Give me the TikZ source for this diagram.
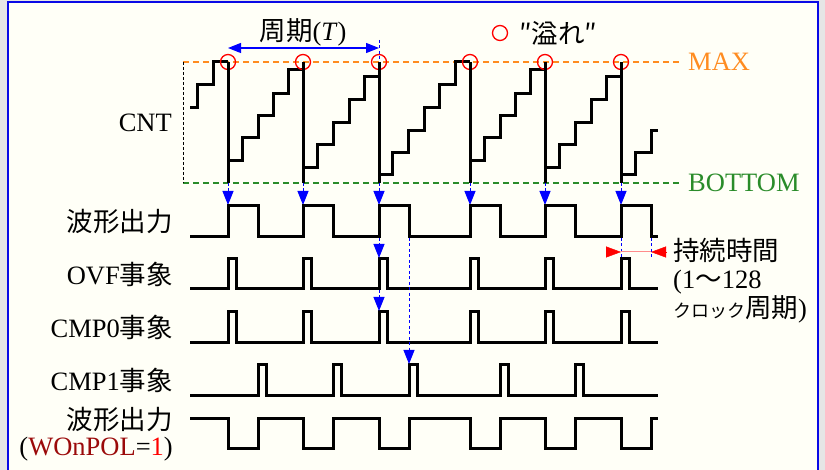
\documentclass[tikz,border=0pt]{standalone}
\usepackage{fontspec}
\setmainfont{Liberation Serif}
\newfontfamily\jpfont{Noto Sans CJK JP}
\usetikzlibrary{arrows.meta, positioning}
\definecolor{outside}{HTML}{E6E6E6}
\definecolor{paper}{HTML}{FFFFF7}
\definecolor{frameblue}{HTML}{0A0AE6}
\definecolor{maxorange}{HTML}{FF8C20}
\definecolor{botgreen}{HTML}{2A8C2A}
\definecolor{wonred}{HTML}{9B0A0A}
\tikzset{
  wave/.style={line width=3pt},
  lvl/.style={dash pattern=on 6pt off 4pt, line width=1.3pt},
  tick/.style={blue, dash pattern=on 3pt off 2.5pt, line width=1pt},
  trig/.style={tick, -{Triangle[length=14pt,width=11pt]}},
  ovfmark/.style={circle, draw=red, line width=1.3pt, minimum size=15pt, inner sep=0pt},
  lbl/.style={anchor=east, inner sep=0pt},
  durtip/.style={red, -{Triangle[length=15pt,width=11pt]}}
}

\begin{document}
\begin{tikzpicture}[x=1pt, y=-1pt, font=\fontsize{26.5}{30}\selectfont]
\useasboundingbox (0,0) rectangle (825,470);
\fill[outside] (0,0) rectangle (825,470);
\fill[paper] (8,2) rectangle (818,472);
\draw[frameblue, line width=2.2pt] (8,472) |- (818,2) -- (818,472);

% counter range
\node[anchor=west, inner sep=2pt, text=maxorange] (maxlbl) at (686,62) {MAX};
\node[anchor=west, inner sep=2pt, text=botgreen] (botlbl) at (686,183) {BOTTOM};
\draw[lvl, maxorange] (183,62) -- ([xshift=-6pt]maxlbl.west);
\draw[lvl, botgreen] (183,183) -- ([xshift=-6pt]botlbl.west);
\draw[densely dashed, line width=0.9pt] (183,62) -- (183,183);
\node[lbl] (cnt) at (172,123) {CNT};

\draw[wave]
  (190,108) -| (197,85) -| (213,62) -- (228,62)
  (228,161) -| (242,138) -| (258,116) -| (273,94) -| (288,70) -- (303,70)
  (303,168) -| (317,145) -| (333,123) -| (349,100) -| (364,77) -- (379,77)
  (379,175) -| (392,153) -| (408,131) -| (424,108) -| (439,85) -| (455,62) -- (470,62)
  (470,161) -| (484,138) -| (500,116) -| (515,94) -| (530,70) -- (545,70)
  (545,168) -| (559,145) -| (575,123) -| (591,100) -| (606,77) -- (621,77)
  (621,175) -| (635,153) -| (651,131) -- (658,131);

\foreach \x [count=\i] in {228,303,379,470,545,621} {
  \node[ovfmark] (ovf\i) at (\x,62) {};
  \coordinate (bot\i) at (\x,183);
  \coordinate (rise\i) at (\x,205);
  \draw[wave] (ovf\i.center) -- (bot\i);
  \draw[trig] (bot\i) -- (rise\i);
}

% legend and period
\node[ovfmark] (leg) at (500,33) {};
\node[anchor=west, inner sep=0pt] (legtxt) at (519,33) {{\jpfont ″溢れ″}};
\coordinate (tl) at (228,48);
\coordinate (tr) at (379,48);
\draw[blue, line width=1.1pt, {Triangle[length=13pt,width=10pt]}-{Triangle[length=13pt,width=10pt]}] (tl) -- (tr);
\draw[tick] (379,40) -- (ovf3.center);
\node (tlbl) at (303,32) {{\jpfont 周期}(\textit{T})};

% row labels
\node[lbl] (lwave) at (173,221) {{\jpfont 波形出力}};
\node[lbl] (lovf) at (173,274) {OVF{\jpfont 事象}};
\node[lbl] (lcmp0) at (173,327) {CMP0{\jpfont 事象}};
\node[lbl] (lcmp1) at (173,380) {CMP1{\jpfont 事象}};
\node[lbl, align=right, font=\fontsize{26.5}{25.5}\selectfont] (lwaveinv) at (173,434)
  {{\jpfont 波形出力}\\(\textcolor{wonred}{WOnPOL}=\textcolor{red}{1})};

% waveforms
\draw[wave] (190,237) -| (228,206) -| (258,237) -| (303,206) -| (333,237) -| (379,206) -| (409,237)
  -| (470,206) -| (500,237) -| (545,206) -| (575,237) -| (621,206) -| (651,237) -- (658,237);
\foreach \lo/\hi in {289/259, 343/312}
  \draw[wave] (190,\lo) -| (228,\hi) -| (236,\lo) -| (303,\hi) -| (311,\lo) -| (379,\hi) -| (387,\lo)
    -| (470,\hi) -| (478,\lo) -| (545,\hi) -| (553,\lo) -| (621,\hi) -| (629,\lo) -- (658,\lo);
\draw[wave] (190,395) -| (258,365) -| (266,395) -| (333,365) -| (341,395) -| (409,365) -| (417,395)
  -| (500,365) -| (508,395) -| (575,365) -| (583,395) -- (658,395);
\draw[wave] (190,418) -| (228,448) -| (258,418) -| (303,448) -| (333,418) -| (379,448) -| (409,418)
  -| (470,448) -| (500,418) -| (545,448) -| (575,418) -| (621,448) -| (651,418) -- (658,418);

% event triggers
\coordinate (wfall) at (409,238);
\draw[trig] (379,238) -- (379,258);
\draw[trig] (379,290) -- (379,311);
\draw[trig] (wfall) -- (409,364);

% pulse width
\coordinate (d1) at (621,252);
\coordinate (d2) at (651,252);
\draw[tick] (621,238) -- (621,258);
\draw[tick] (651,238) -- (651,258);
\draw[red!45, line width=1pt] (d1) -- (d2);
\draw[durtip] ([xshift=-15pt]d1) -- (d1);
\draw[durtip] ([xshift=15pt]d2) -- (d2);
\node[anchor=north west, align=left, inner sep=0pt, font=\fontsize{26.5}{28.5}\selectfont] (durtxt) at (673,238)
  {{\jpfont 持続時間}\\(1{\jpfont 〜}128\\{\jpfont\fontsize{18}{20}\selectfont クロック}{\jpfont 周期})};
\end{tikzpicture}
\end{document}
